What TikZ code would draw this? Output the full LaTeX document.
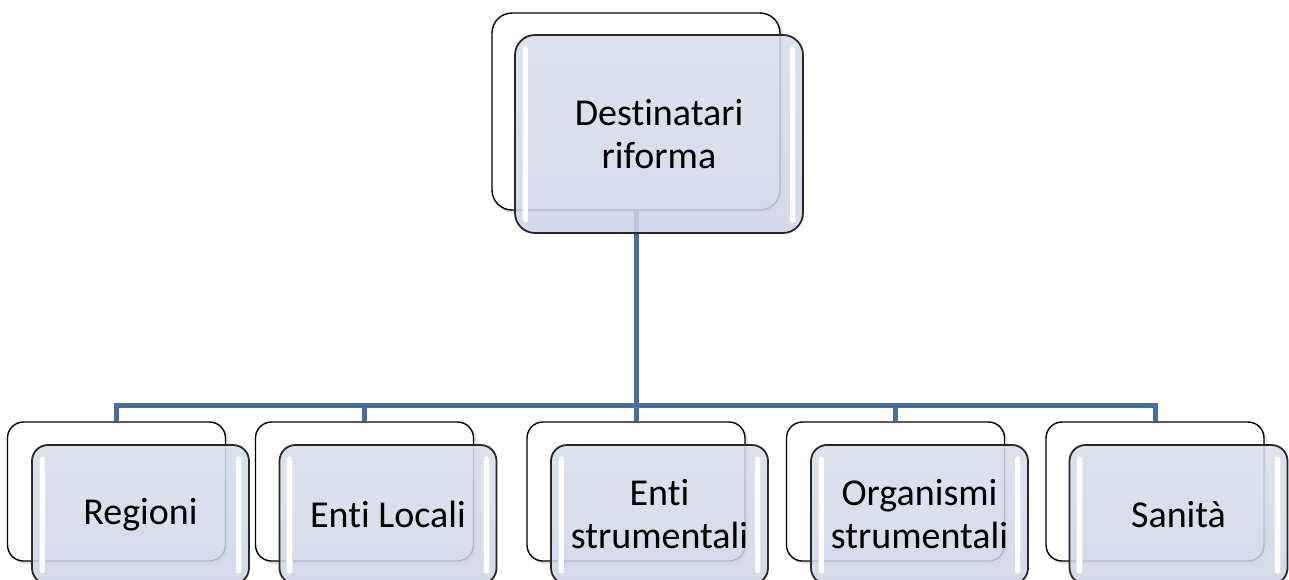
\documentclass[tikz,border=0pt]{standalone}
\usepackage{fontspec}
\setmainfont[Ligatures=NoCommon]{Carlito}
\definecolor{conncol}{RGB}{71,110,160}
\definecolor{boxtop}{RGB}{216,222,237}
\definecolor{boxbot}{RGB}{206,213,231}
\definecolor{edgecol}{RGB}{40,40,40}
\tikzset{
  backbox/.style={draw=black, line width=1.4pt, fill=white, rounded corners=#1, inner sep=0pt},
  backbox/.default=18pt,
  frontbox/.style={draw=edgecol, line width=1.8pt, top color=boxtop, bottom color=boxbot, fill opacity=0.86, text opacity=1, rounded corners=#1, inner sep=0pt, align=center, font=\fontsize{38}{43}\selectfont},
  frontbox/.default=18pt,
  conn/.style={draw=conncol, line width=5pt},
  hlo/.style={line width=6.5pt, draw=black!10, line cap=round},
  hli/.style={line width=5pt, draw=white, line cap=round},
  shad/.style={fill=black, fill opacity=0.12, draw=none, rounded corners=#1},
  shad/.default=18pt
}
\newcommand{\glassbars}[1]{%
  \draw[hlo] ([xshift=11pt,yshift=-15pt]#1.north west) -- ([xshift=11pt,yshift=14pt]#1.south west);
  \draw[hli] ([xshift=11pt,yshift=-15pt]#1.north west) -- ([xshift=11pt,yshift=14pt]#1.south west);
  \draw[hlo] ([xshift=-11pt,yshift=-15pt]#1.north east) -- ([xshift=-11pt,yshift=14pt]#1.south east);
  \draw[hli] ([xshift=-11pt,yshift=-15pt]#1.north east) -- ([xshift=-11pt,yshift=14pt]#1.south east);
}
\begin{document}
\begin{tikzpicture}[x=1pt,y=-1pt]
\useasboundingbox[fill=white] (0,0) rectangle (1289,579);

% top back box
\fill[shad=20pt] (494,16) rectangle (783,213);
\node[backbox=20pt, minimum width=288pt, minimum height=197pt] (tb) at (636,111.5) {};

% bottom back boxes
\foreach \x/\n in {116.5/b1, 364.5/b2, 636/b3, 895.5/b4, 1155/b5}{
  \fill[shad=16pt] (\x-107,425) rectangle (\x+112,564);
  \node[backbox=16pt, minimum width=218pt, minimum height=139pt] (\n) at (\x,491.5) {};
}

% connectors
\coordinate (bus) at (636,405);
\draw[conn] (tb.south) -- (bus);
\foreach \n in {b1,b2,b3,b4,b5}{
  \draw[conn] (bus) -| (\n.north);
}

% top front box
\node[frontbox=20pt, minimum width=288pt, minimum height=198pt] (tf) at (659,134) {Destinatari\\riforma};
\glassbars{tf}

% bottom front boxes
\node[frontbox=16pt, minimum width=217pt, minimum height=139pt] (f1) at (140.5,514.5) {Regioni};
\node[frontbox=16pt, minimum width=217pt, minimum height=139pt] (f2) at (388,514.5) {Enti Locali};
\node[frontbox=16pt, minimum width=217pt, minimum height=139pt] (f3) at (659.5,514.5) {Enti\\strumentali};
\node[frontbox=16pt, minimum width=217pt, minimum height=139pt] (f4) at (919.5,514.5) {Organismi\\strumentali};
\node[frontbox=16pt, minimum width=218pt, minimum height=139pt] (f5) at (1178.5,514.5) {Sanità};
\foreach \n in {f1,f2,f3,f4,f5}{\glassbars{\n}}
\end{tikzpicture}
\end{document}
